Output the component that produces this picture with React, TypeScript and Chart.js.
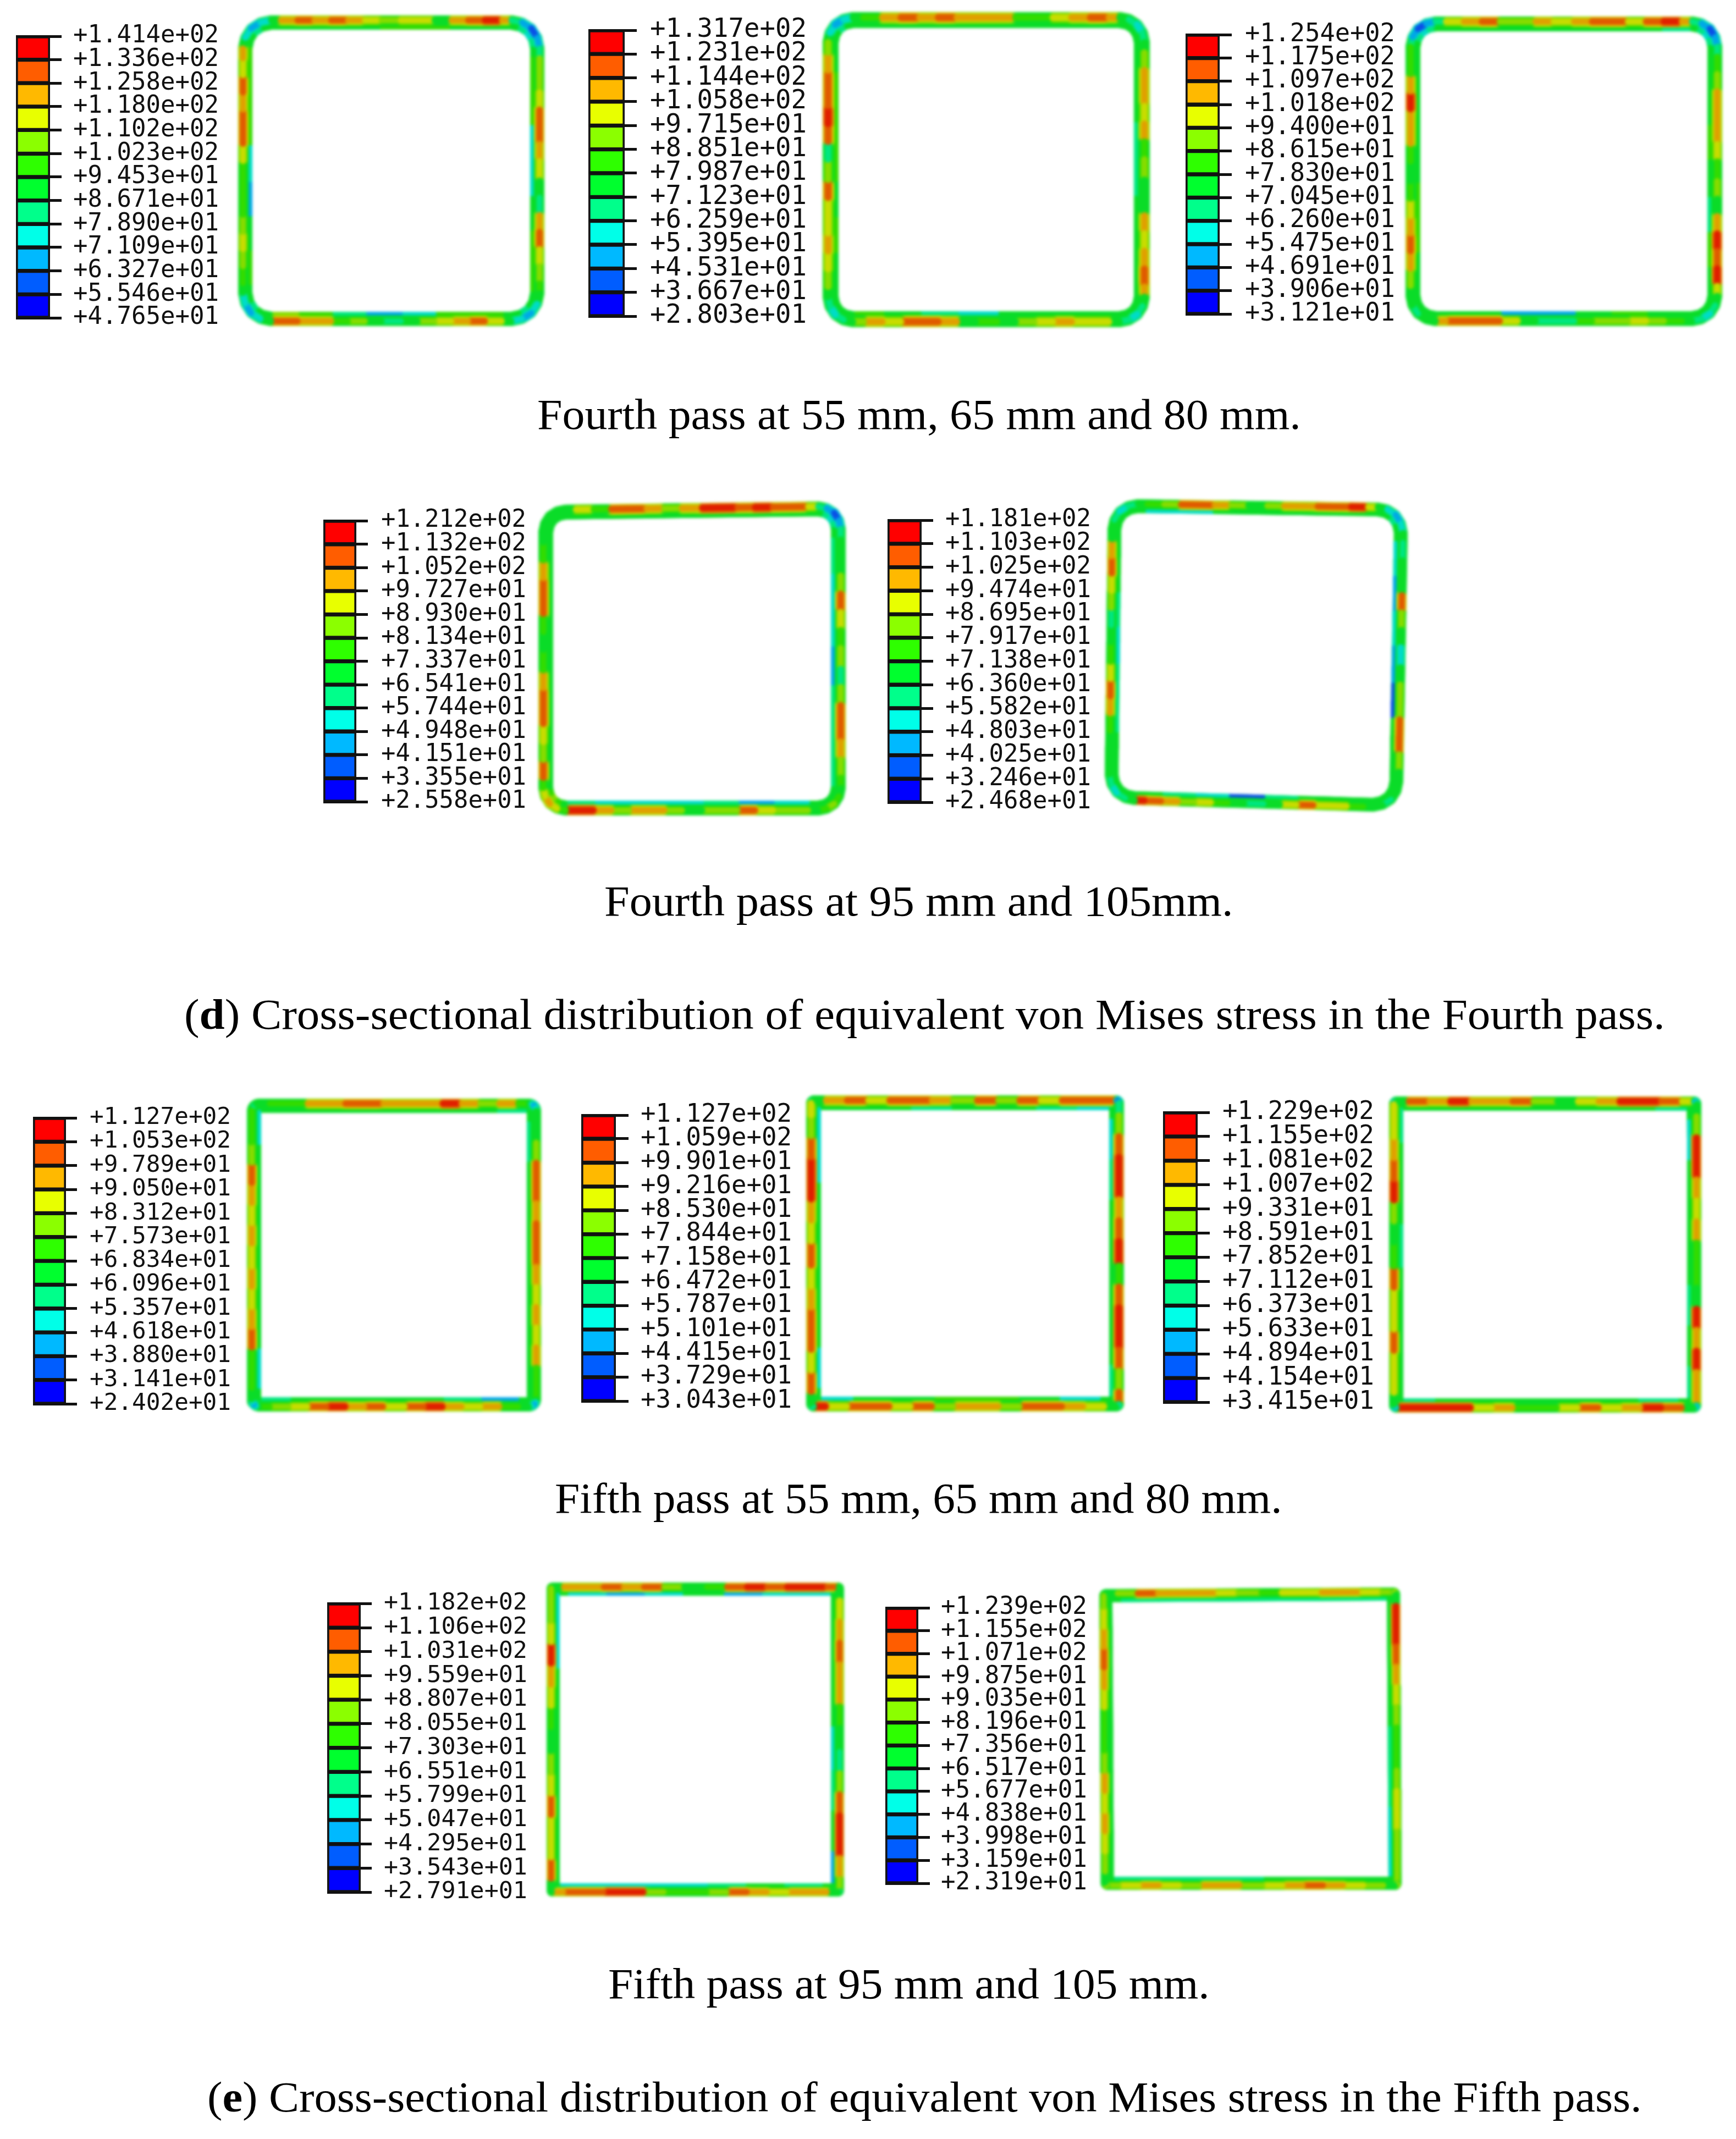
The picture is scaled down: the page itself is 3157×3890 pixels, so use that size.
import React, { useEffect, useLayoutEffect, useRef } from "react";
import { Chart, registerables } from "chart.js";

Chart.register(...registerables);

// ---- contour legend values (MPa), top to bottom ----
const legend1 = [141.4, 133.6, 125.8, 118.0, 110.2, 102.3, 94.53, 86.71, 78.90, 71.09, 63.27, 55.46, 47.65];
const legend2 = [131.7, 123.1, 114.4, 105.8, 97.15, 88.51, 79.87, 71.23, 62.59, 53.95, 45.31, 36.67, 28.03];
const legend3 = [125.4, 117.5, 109.7, 101.8, 94.00, 86.15, 78.30, 70.45, 62.60, 54.75, 46.91, 39.06, 31.21];
const legend4 = [121.2, 113.2, 105.2, 97.27, 89.30, 81.34, 73.37, 65.41, 57.44, 49.48, 41.51, 33.55, 25.58];
const legend5 = [118.1, 110.3, 102.5, 94.74, 86.95, 79.17, 71.38, 63.60, 55.82, 48.03, 40.25, 32.46, 24.68];
const legend6 = [112.7, 105.3, 97.89, 90.50, 83.12, 75.73, 68.34, 60.96, 53.57, 46.18, 38.80, 31.41, 24.02];
const legend7 = [112.7, 105.9, 99.01, 92.16, 85.30, 78.44, 71.58, 64.72, 57.87, 51.01, 44.15, 37.29, 30.43];
const legend8 = [122.9, 115.5, 108.1, 100.7, 93.31, 85.91, 78.52, 71.12, 63.73, 56.33, 48.94, 41.54, 34.15];
const legend9 = [118.2, 110.6, 103.1, 95.59, 88.07, 80.55, 73.03, 65.51, 57.99, 50.47, 42.95, 35.43, 27.91];
const legend10 = [123.9, 115.5, 107.1, 98.75, 90.35, 81.96, 73.56, 65.17, 56.77, 48.38, 39.98, 31.59, 23.19];

// ---- contour band (0 = lowest, 11 = highest) read along each wall of the section ----
const ring1Top = [9, 10, 9, 10, 9, 8, 7, 8, 8, 5, 9, 10, 11, 9];
const ring1Right = [7, 7, 8, 10, 10, 9, 8, 5, 4, 9, 10, 8, 7, 6];
const ring1Bottom = [10, 10, 9, 9, 6, 7, 5, 4, 5, 7, 8, 9, 10, 8];
const ring1Left = [9, 8, 10, 9, 10, 10, 8, 6, 6, 6, 7, 8, 7, 6];
const ring1Corners = [2, 1, 2, 2];
const ring1Inner = [[5, 5, 5, 6, 6, 5, 5], [6, 6, 3, 3, 5, 6, 6], [7, 6, 4, 2, 3, 6, 6], [6, 6, 6, 3, 2, 5, 6]];

const ring2Top = [6, 9, 10, 9, 10, 9, 9, 9, 6, 6, 8, 9, 10, 9];
const ring2Right = [7, 9, 9, 8, 9, 6, 7, 5, 5, 9, 8, 9, 10, 9];
const ring2Bottom = [7, 9, 8, 10, 10, 9, 5, 6, 5, 7, 8, 9, 8, 8];
const ring2Left = [7, 9, 10, 10, 11, 10, 4, 7, 10, 8, 8, 9, 8, 7];
const ring2Corners = [2, 3, 3, 3];
const ring2Inner = [[5, 5, 5, 5, 5, 5, 5], [5, 5, 4, 4, 5, 5, 5], [6, 5, 4, 3, 5, 5, 5], [5, 6, 6, 6, 5, 6, 5]];

const ring3Top = [8, 9, 10, 7, 7, 9, 8, 9, 10, 10, 8, 10, 11, 9];
const ring3Right = [6, 7, 9, 9, 9, 8, 6, 7, 5, 9, 11, 10, 11, 8];
const ring3Bottom = [9, 10, 10, 10, 8, 5, 4, 4, 6, 7, 7, 8, 7, 6];
const ring3Left = [6, 6, 9, 11, 9, 9, 6, 5, 6, 8, 9, 10, 9, 7];
const ring3Corners = [1, 1, 3, 4];
const ring3Inner = [[5, 5, 5, 5, 5, 5, 4], [5, 5, 6, 5, 4, 6, 5], [5, 5, 2, 2, 5, 6, 5], [5, 5, 5, 5, 6, 6, 5]];

const ring4Top = [8, 6, 10, 10, 9, 7, 9, 11, 11, 10, 11, 10, 10, 8];
const ring4Right = [5, 5, 7, 10, 8, 6, 7, 4, 7, 10, 10, 9, 7, 6];
const ring4Bottom = [11, 11, 9, 7, 9, 9, 7, 5, 7, 7, 10, 8, 7, 7];
const ring4Left = [5, 6, 9, 10, 10, 6, 5, 6, 9, 10, 10, 8, 7, 10];
const ring4Corners = [5, 1, 7, 9];
const ring4Inner = [[5, 5, 5, 5, 5, 5, 5], [4, 3, 3, 2, 4, 4, 4], [4, 3, 3, 3, 4, 2, 3], [5, 5, 5, 5, 5, 5, 5]];

const ring5Top = [6, 7, 10, 10, 9, 7, 5, 7, 9, 9, 10, 10, 11, 8];
const ring5Right = [4, 5, 5, 10, 7, 5, 3, 5, 7, 7, 10, 10, 7, 5];
const ring5Bottom = [11, 10, 9, 7, 8, 6, 5, 4, 5, 8, 10, 8, 8, 6];
const ring5Left = [5, 9, 10, 8, 7, 4, 5, 6, 8, 10, 9, 6, 5, 5];
const ring5Corners = [3, 2, 4, 3];
const ring5Inner = [[3, 3, 5, 5, 5, 5, 5], [3, 2, 3, 2, 1, 5, 5], [5, 4, 3, 1, 4, 5, 5], [5, 5, 4, 3, 4, 4, 5]];

const ring6Top = [6, 6, 9, 9, 10, 10, 9, 9, 9, 11, 9, 7, 9, 6];
const ring6Right = [5, 7, 10, 10, 9, 10, 10, 9, 8, 9, 8, 9, 6, 6];
const ring6Bottom = [6, 7, 8, 10, 11, 9, 10, 8, 10, 11, 9, 8, 9, 6];
const ring6Left = [6, 6, 7, 10, 9, 8, 9, 8, 9, 8, 9, 10, 6, 6];
const ring6Corners = [4, 2, 2, 2];
const ring6Inner = [[5, 5, 5, 5, 5, 5, 4], [4, 5, 5, 5, 5, 5, 5], [4, 5, 5, 5, 5, 4, 2], [3, 5, 5, 5, 5, 5, 3]];

const ring7Top = [9, 10, 8, 10, 10, 9, 7, 10, 7, 10, 8, 10, 10, 10];
const ring7Right = [7, 10, 11, 11, 9, 10, 11, 6, 10, 11, 11, 10, 7, 10];
const ring7Bottom = [11, 8, 10, 10, 8, 10, 7, 9, 9, 7, 10, 10, 9, 8];
const ring7Left = [8, 7, 10, 11, 11, 9, 8, 10, 8, 9, 10, 10, 8, 10];
const ring7Corners = [3, 1, 3, 3];
const ring7Inner = [[5, 5, 4, 5, 5, 4, 3], [3, 4, 5, 5, 5, 5, 4], [3, 5, 5, 6, 6, 5, 3], [3, 3, 5, 5, 5, 5, 3]];

const ring8Top = [10, 9, 11, 9, 9, 10, 7, 5, 8, 9, 11, 11, 10, 8];
const ring8Right = [7, 11, 11, 9, 8, 9, 6, 6, 5, 11, 9, 11, 9, 9];
const ring8Bottom = [11, 11, 11, 11, 8, 9, 6, 6, 8, 10, 8, 9, 11, 10];
const ring8Left = [8, 8, 9, 10, 11, 7, 5, 6, 10, 8, 8, 10, 8, 8];
const ring8Corners = [2, 2, 2, 2];
const ring8Inner = [[5, 5, 5, 5, 5, 5, 4], [3, 5, 5, 5, 4, 5, 4], [4, 5, 5, 5, 5, 5, 4], [4, 5, 5, 4, 5, 5, 5]];

const ring9Top = [9, 9, 10, 9, 10, 7, 5, 6, 10, 11, 10, 11, 11, 10];
const ring9Right = [8, 9, 10, 9, 9, 6, 5, 4, 7, 10, 11, 11, 9, 7];
const ring9Bottom = [9, 10, 10, 11, 11, 7, 6, 6, 7, 10, 9, 8, 9, 9];
const ring9Left = [7, 7, 8, 11, 9, 8, 6, 5, 7, 8, 10, 8, 8, 10];
const ring9Corners = [5, 5, 3, 5];
const ring9Inner = [[3, 2, 3, 5, 2, 3, 3], [5, 5, 5, 3, 4, 5, 2], [3, 3, 3, 3, 4, 5, 4], [3, 3, 5, 5, 5, 5, 5]];

const ring10Top = [7, 10, 9, 9, 9, 8, 7, 6, 8, 8, 9, 9, 8, 7];
const ring10Right = [11, 11, 10, 9, 8, 7, 6, 6, 7, 8, 8, 7, 7, 7];
const ring10Bottom = [7, 8, 9, 8, 7, 9, 9, 7, 8, 9, 10, 9, 8, 7];
const ring10Left = [7, 8, 9, 10, 9, 8, 6, 6, 7, 9, 8, 9, 8, 7];
const ring10Corners = [6, 8, 8, 8];
const ring10Inner = [[4, 4, 4, 4, 4, 4, 4], [5, 5, 5, 4, 4, 3, 3], [4, 4, 4, 4, 5, 5, 5], [5, 5, 5, 5, 5, 5, 5]];

// where the wall readings were taken, as a fraction of the wall length
const stations = [0.04, 0.11, 0.18, 0.25, 0.32, 0.39, 0.46, 0.54, 0.61, 0.68, 0.75, 0.82, 0.89, 0.96];
// one quarter of a unit circle, as direction vectors
const quarterArc = [[-1, 0], [-0.92, -0.38], [-0.71, -0.71], [-0.38, -0.92], [0, -1]];
// how far the corner reading fades back to the wall along the arc
const arcFade = [3, 1, 0, 1, 3];
const inwardSigns = [[1, 1], [-1, 1], [-1, -1], [1, -1]];

// section outline corners in section units (half size = 100)
const squareCorners = [[-100, -100], [100, -100], [100, 100], [-100, 100]];
const skewCorners4 = [[-100, -98], [100, -100], [100, 100], [-100, 100]];
const skewCorners5 = [[-98.2, -100], [100, -97.9], [97.1, 100], [-100, 95.8]];
const skewCorners10 = [[-100, -99], [99, -100], [100, 100], [-99, 100]];

const legendColors = ["#ff0000", "#ff5d00", "#ffb900", "#e8ff00", "#8bff00", "#2eff00", "#00ff2e", "#00ff8b", "#00ffe8", "#00b9ff", "#005dff", "#0000ff"];
const ringColors = ["#0a14e0", "#0a50e6", "#00a8e6", "#00dcc8", "#00e680", "#0adc28", "#32dc00", "#86dc00", "#c8dc00", "#e0a000", "#e05a00", "#e01e00"];

type Layout = {
  legend: number[]; top: number[]; right: number[]; bottom: number[]; left: number[]; corners: number[]; inner: number[][];
  bar: number[]; tickEnd: number; labelLeft: number; labelRight: number;
  box: number[]; outline: number[][]; radius: number; wall: number;
};

const panels: Layout[] = [
  { legend: legend1, top: ring1Top, right: ring1Right, bottom: ring1Bottom, left: ring1Left, corners: ring1Corners, inner: ring1Inner, bar: [29, 66, 91, 578], tickEnd: 112, labelLeft: 133, labelRight: 398, box: [433, 28, 990, 593], outline: squareCorners, radius: 60, wall: 26 },
  { legend: legend2, top: ring2Top, right: ring2Right, bottom: ring2Bottom, left: ring2Left, corners: ring2Corners, inner: ring2Inner, bar: [1070, 55, 1136, 575], tickEnd: 1158, labelLeft: 1182, labelRight: 1467, box: [1496, 22, 2091, 595], outline: squareCorners, radius: 55, wall: 29 },
  { legend: legend3, top: ring3Top, right: ring3Right, bottom: ring3Bottom, left: ring3Left, corners: ring3Corners, inner: ring3Inner, bar: [2156, 63, 2218, 571], tickEnd: 2240, labelLeft: 2264, labelRight: 2537, box: [2556, 30, 3132, 593], outline: squareCorners, radius: 55, wall: 27 },
  { legend: legend4, top: ring4Top, right: ring4Right, bottom: ring4Bottom, left: ring4Left, corners: ring4Corners, inner: ring4Inner, bar: [588, 947, 648, 1458], tickEnd: 669, labelLeft: 693, labelRight: 957, box: [979, 912, 1538, 1483], outline: skewCorners4, radius: 50, wall: 27 },
  { legend: legend5, top: ring5Top, right: ring5Right, bottom: ring5Bottom, left: ring5Left, corners: ring5Corners, inner: ring5Inner, bar: [1614, 946, 1676, 1459], tickEnd: 1697, labelLeft: 1719, labelRight: 1984, box: [2009, 908, 2560, 1476], outline: skewCorners5, radius: 55, wall: 25 },
  { legend: legend6, top: ring6Top, right: ring6Right, bottom: ring6Bottom, left: ring6Left, corners: ring6Corners, inner: ring6Inner, bar: [60, 2033, 120, 2553], tickEnd: 140, labelLeft: 163, labelRight: 420, box: [449, 1998, 984, 2567], outline: squareCorners, radius: 22, wall: 26 },
  { legend: legend7, top: ring7Top, right: ring7Right, bottom: ring7Bottom, left: ring7Left, corners: ring7Corners, inner: ring7Inner, bar: [1057, 2028, 1120, 2548], tickEnd: 1143, labelLeft: 1165, labelRight: 1440, box: [1466, 1992, 2044, 2567], outline: squareCorners, radius: 14, wall: 27 },
  { legend: legend8, top: ring8Top, right: ring8Right, bottom: ring8Bottom, left: ring8Left, corners: ring8Corners, inner: ring8Inner, bar: [2115, 2023, 2178, 2550], tickEnd: 2200, labelLeft: 2223, labelRight: 2499, box: [2526, 1994, 3094, 2569], outline: squareCorners, radius: 14, wall: 26 },
  { legend: legend9, top: ring9Top, right: ring9Right, bottom: ring9Bottom, left: ring9Left, corners: ring9Corners, inner: ring9Inner, bar: [595, 2916, 656, 3441], tickEnd: 676, labelLeft: 698, labelRight: 959, box: [994, 2878, 1535, 3449], outline: squareCorners, radius: 10, wall: 24 },
  { legend: legend10, top: ring10Top, right: ring10Right, bottom: ring10Bottom, left: ring10Left, corners: ring10Corners, inner: ring10Inner, bar: [1610, 2924, 1670, 3425], tickEnd: 1691, labelLeft: 1711, labelRight: 1977, box: [1999, 2887, 2549, 3437], outline: skewCorners10, radius: 12, wall: 24 },
];

const captions = [
  { parts: [["", "Fourth pass at 55 mm, 65 mm and 80 mm."]], x0: 977, x1: 2366, cy: 754 },
  { parts: [["", "Fourth pass at 95 mm and 105mm."]], x0: 1099, x1: 2242, cy: 1639 },
  { parts: [["", "("], ["b", "d"], ["", ") Cross-sectional distribution of equivalent von Mises stress in the Fourth pass."]], x0: 335, x1: 3028, cy: 1845 },
  { parts: [["", "Fifth pass at 55 mm, 65 mm and 80 mm."]], x0: 1009, x1: 2331, cy: 2725 },
  { parts: [["", "Fifth pass at 95 mm and 105 mm."]], x0: 1106, x1: 2200, cy: 3608 },
  { parts: [["", "("], ["b", "e"], ["", ") Cross-sectional distribution of equivalent von Mises stress in the Fifth pass."]], x0: 377, x1: 2986, cy: 3814 },
];

function sciLabel(v: number) {
  const [m, e] = v.toExponential(3).split("e+");
  return `+${m}e+${e.padStart(2, "0")}`;
}

function LegendBar({ p }: { p: Layout }) {
  const ref = useRef<HTMLCanvasElement>(null);
  const pad = 6;
  const [x0, y0, x1, y1] = p.bar;
  const vPad = 90;
  const axisW = p.labelRight - x1 + 8;
  const W = pad + (x1 - x0) + axisW;
  const H = y1 - y0 + 2 * vPad;
  useEffect(() => {
    const v = p.legend;
    const chart = new Chart(ref.current!, {
      type: "bar",
      data: {
        labels: [""],
        datasets: legendColors.map((c, i) => ({
          data: [[v[i + 1], v[i]]] as any,
          backgroundColor: c,
          borderColor: "#151515",
          borderWidth: 4,
          borderSkipped: false,
          grouped: false,
          barPercentage: 1,
          categoryPercentage: 1,
        })),
      },
      options: {
        animation: false, responsive: false, devicePixelRatio: 1,
        layout: { padding: { left: pad, right: 0, top: vPad, bottom: vPad } },
        plugins: { legend: { display: false }, tooltip: { enabled: false } },
        scales: {
          x: { display: false },
          y: {
            position: "right",
            min: v[v.length - 1], max: v[0],
            afterBuildTicks: (s: any) => { s.ticks = v.map((value) => ({ value })); },
            afterFit: (s: any) => { s.width = axisW; },
            grid: { color: "#111", lineWidth: 5, tickLength: p.tickEnd - x1, drawOnChartArea: true, z: 1, tickColor: "#111" },
            border: { display: false },
            ticks: {
              autoSkip: false, maxRotation: 0, minRotation: 0, color: "#111",
              padding: p.labelLeft - p.tickEnd,
              font: { family: "'DejaVu Sans Mono'", size: (p.labelRight - p.labelLeft) / 6.02 },
              callback: (value: any) => sciLabel(Number(value)),
            },
          },
        },
      } as any,
    });
    return () => chart.destroy();
  }, []);
  return <canvas ref={ref} width={W} height={H} style={{ position: "absolute", left: x0 - pad, top: y0 - vPad, width: W, height: H, filter: "blur(0.6px)" }} />;
}

const relax = (b: number, s: number) => (b > 5 ? Math.max(5, b - s) : Math.min(5, b + s));

function sectionLoop(p: Layout, insetPx: number) {
  const w = p.box[2] - p.box[0];
  const h = p.box[3] - p.box[1];
  const ux = 200 / w, uy = 200 / h;
  const pts: { x: number; y: number }[] = [];
  const rIn = Math.max(p.radius - insetPx, 1);
  const arcs = p.outline.map((c, i) => {
    const [sx, sy] = inwardSigns[i];
    const cx = c[0] + sx * Math.max(p.radius, insetPx + 1) * ux;
    const cy = c[1] + sy * Math.max(p.radius, insetPx + 1) * uy;
    return quarterArc.map(([a, b]) => {
      let ax = a, ay = b;
      for (let k = 0; k < i; k++) [ax, ay] = [-ay, ax];
      return { x: cx + ax * rIn * ux, y: cy + ay * rIn * uy };
    });
  });
  arcs.forEach((arc, i) => {
    pts.push(...arc);
    const end = arc[arc.length - 1];
    const next = arcs[(i + 1) % 4][0];
    stations.forEach((f) => pts.push({ x: end.x + (next.x - end.x) * f, y: end.y + (next.y - end.y) * f }));
  });
  pts.push({ ...pts[0] });
  return pts;
}

function loopBands(sides: number[][], corners: number[]) {
  const out: number[] = [];
  const ordered = [sides[0], sides[1], [...sides[2]].reverse(), [...sides[3]].reverse()];
  ordered.forEach((side, i) => {
    arcFade.forEach((s) => out.push(relax(corners[i], s)));
    side.forEach((b) => out.push(b));
  });
  out.push(relax(corners[0], arcFade[0]));
  return out;
}

function Section({ p }: { p: Layout }) {
  const ref = useRef<HTMLCanvasElement>(null);
  const pad = 20;
  const [x0, y0, x1, y1] = p.box;
  const w = x1 - x0, h = y1 - y0;
  const W = w + 2 * pad, H = h + 2 * pad;
  useEffect(() => {
    const coreSides = [p.top, p.right, p.bottom, p.left];
    const innerSides = p.inner.map((s) => stations.map((_, k) => s[Math.floor(k / 2)]));
    const coreBands = loopBands(coreSides, p.corners);
    const innerBands = loopBands(innerSides, p.corners.map((b) => relax(b, 2)));
    const layer = (insetF: number, widthF: number, bands: number[], order: number) => {
      const inset = insetF * p.wall;
      return {
        data: sectionLoop(p, inset),
        borderWidth: widthF * p.wall,
        borderColor: ringColors[5],
        borderCapStyle: "round",
        borderJoinStyle: "round",
        pointRadius: 0,
        tension: 0,
        fill: false,
        clip: false,
        order,
        segment: { borderColor: (ctx: any) => ringColors[bands[ctx.p0DataIndex]] },
      };
    };
    const chart = new Chart(ref.current!, {
      type: "line",
      data: {
        datasets: [
          layer(0.34, 0.42, coreBands, 1),
          layer(0.34, 0.58, coreBands.map((b) => relax(b, 1)), 2),
          layer(0.37, 0.72, coreBands.map((b) => relax(b, 2)), 3),
          layer(0.87, 0.26, innerBands, 4),
          layer(0.5, 1.0, coreBands.map((b) => relax(b, 3)), 5),
        ] as any,
      },
      options: {
        animation: false, responsive: false, devicePixelRatio: 1,
        layout: { padding: 0 },
        plugins: { legend: { display: false }, tooltip: { enabled: false } },
        scales: {
          x: { type: "linear", display: false, min: -100 * W / w, max: 100 * W / w },
          y: { type: "linear", display: false, reverse: true, min: -100 * H / h, max: 100 * H / h },
        },
      } as any,
    });
    return () => chart.destroy();
  }, []);
  return <canvas ref={ref} width={W} height={H} style={{ position: "absolute", left: x0 - pad, top: y0 - pad, width: W, height: H, filter: "blur(2.4px)" }} />;
}

function Caption({ c }: { c: (typeof captions)[number] }) {
  const ref = useRef<HTMLDivElement>(null);
  useLayoutEffect(() => {
    const el = ref.current!;
    const width = el.scrollWidth || el.getBoundingClientRect().width;
    el.style.transform = `scaleX(${(c.x1 - c.x0) / width})`;
  }, []);
  return (
    <div ref={ref} style={{ position: "absolute", left: c.x0, top: c.cy - 50, lineHeight: "100px", fontFamily: "'Liberation Serif'", fontSize: 78, color: "#000", whiteSpace: "nowrap", transformOrigin: "0 0" }}>
      {c.parts.map(([k, t], i) => (k === "b" ? <b key={i}>{t}</b> : <span key={i}>{t}</span>))}
    </div>
  );
}

export default function App() {
  return (
    <div style={{ position: "absolute", left: 0, top: 0, width: 3157, height: 3890, background: "#fff", overflow: "hidden" }}>
      {panels.map((p, i) => <LegendBar key={`l${i}`} p={p} />)}
      {panels.map((p, i) => <Section key={`s${i}`} p={p} />)}
      {captions.map((c, i) => <Caption key={`c${i}`} c={c} />)}
    </div>
  );
}
